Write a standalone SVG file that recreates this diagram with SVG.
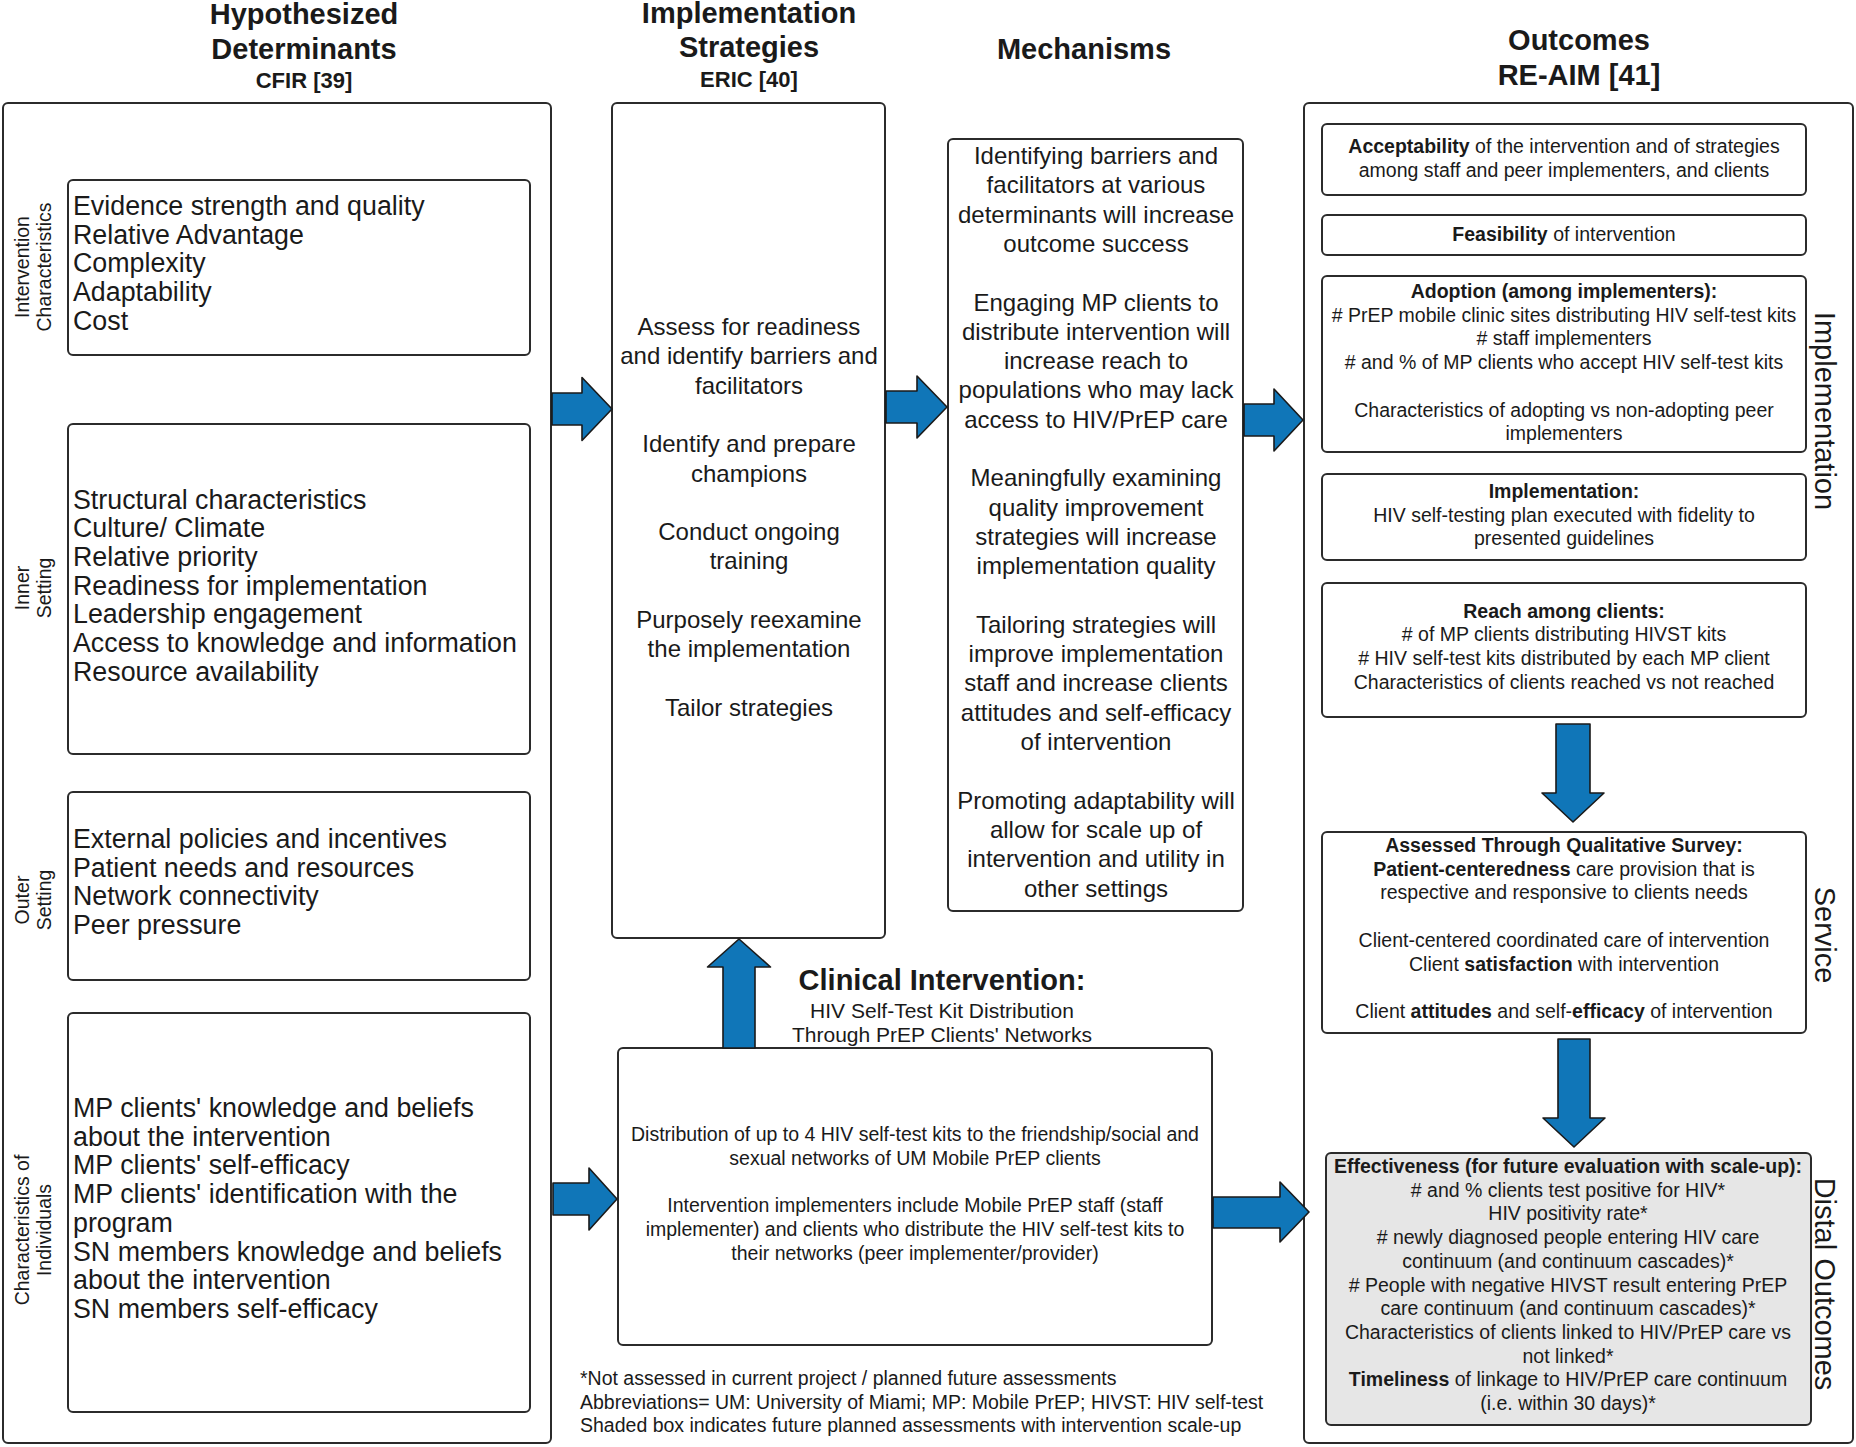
<svg xmlns="http://www.w3.org/2000/svg" width="1856" height="1447" viewBox="0 0 1856 1447">
<style>
text{font-family:"Liberation Sans",Arial,sans-serif;fill:#1a1a1a}
.box{fill:#fff;stroke:#2b2b2b;stroke-width:2}
.shade{fill:#e6e6e6;stroke:#2b2b2b;stroke-width:2}
.h{font-size:29px;font-weight:bold;text-anchor:middle}
.hs{font-size:22px;font-weight:bold;text-anchor:middle}
.lt{font-size:26.8px}
.mt{font-size:24px;text-anchor:middle}
.st{font-size:19.5px;text-anchor:middle}
.ft{font-size:19.5px}
.vl{font-size:19.5px;text-anchor:middle}
.vr{font-size:29px;text-anchor:middle}
.ct{font-size:29px;font-weight:bold;text-anchor:middle}
.cs{font-size:21px;text-anchor:middle}
.arr{fill:#1076b8;stroke:#1a1a1a;stroke-width:1.6;stroke-linejoin:round}
b,.b{font-weight:bold}
</style>

<!-- Column headers -->
<g id="headers">
<text class="h" x="304" y="24">Hypothesized</text>
<text class="h" x="304" y="59">Determinants</text>
<text class="hs" x="304" y="88">CFIR [39]</text>
<text class="h" x="749" y="23">Implementation</text>
<text class="h" x="749" y="57">Strategies</text>
<text class="hs" x="749" y="87">ERIC [40]</text>
<text class="h" x="1084" y="59">Mechanisms</text>
<text class="h" x="1579" y="50">Outcomes</text>
<text class="h" x="1579" y="85">RE-AIM [41]</text>
</g>

<!-- Determinants column -->
<g id="determinants">
<rect class="box" x="3" y="103" width="548" height="1340" rx="5"/>
</g>

<g id="intervention-characteristics">
<rect class="box" x="68" y="180" width="462" height="175" rx="5"/>
<g transform="translate(0,267) rotate(-90)">
<text class="vl" x="0" y="29">Intervention</text>
<text class="vl" x="0" y="51">Characteristics</text>
</g>
<text class="lt" x="73" y="215">Evidence strength and quality</text>
<text class="lt" x="73" y="243.7">Relative Advantage</text>
<text class="lt" x="73" y="272.4">Complexity</text>
<text class="lt" x="73" y="301.1">Adaptability</text>
<text class="lt" x="73" y="329.8">Cost</text>
</g>

<g id="inner-setting">
<rect class="box" x="68" y="424" width="462" height="330" rx="5"/>
<g transform="translate(0,588) rotate(-90)">
<text class="vl" x="0" y="29">Inner</text>
<text class="vl" x="0" y="51">Setting</text>
</g>
<text class="lt" x="73" y="508.5">Structural characteristics</text>
<text class="lt" x="73" y="537.2">Culture/ Climate</text>
<text class="lt" x="73" y="565.9">Relative priority</text>
<text class="lt" x="73" y="594.6">Readiness for implementation</text>
<text class="lt" x="73" y="623.3">Leadership engagement</text>
<text class="lt" x="73" y="652">Access to knowledge and information</text>
<text class="lt" x="73" y="680.7">Resource availability</text>
</g>

<g id="outer-setting">
<rect class="box" x="68" y="792" width="462" height="188" rx="5"/>
<g transform="translate(0,900) rotate(-90)">
<text class="vl" x="0" y="29">Outer</text>
<text class="vl" x="0" y="51">Setting</text>
</g>
<text class="lt" x="73" y="848">External policies and incentives</text>
<text class="lt" x="73" y="876.7">Patient needs and resources</text>
<text class="lt" x="73" y="905.4">Network connectivity</text>
<text class="lt" x="73" y="934.1">Peer pressure</text>
</g>

<g id="characteristics-of-individuals">
<rect class="box" x="68" y="1013" width="462" height="399" rx="5"/>
<g transform="translate(0,1230) rotate(-90)">
<text class="vl" x="0" y="29">Characteristics of</text>
<text class="vl" x="0" y="51">Individuals</text>
</g>
<text class="lt" x="73" y="1117">MP clients' knowledge and beliefs</text>
<text class="lt" x="73" y="1145.7">about the intervention</text>
<text class="lt" x="73" y="1174.4">MP clients' self-efficacy</text>
<text class="lt" x="73" y="1203.1">MP clients' identification with the</text>
<text class="lt" x="73" y="1231.8">program</text>
<text class="lt" x="73" y="1260.5">SN members knowledge and beliefs</text>
<text class="lt" x="73" y="1289.2">about the intervention</text>
<text class="lt" x="73" y="1317.9">SN members self-efficacy</text>
</g>

<!-- Implementation strategies -->
<g id="strategies">
<rect class="box" x="612" y="103" width="273" height="835" rx="5"/>
<text class="mt" x="749" y="335">Assess for readiness</text>
<text class="mt" x="749" y="364.3">and identify barriers and</text>
<text class="mt" x="749" y="393.6">facilitators</text>
<text class="mt" x="749" y="452.2">Identify and prepare</text>
<text class="mt" x="749" y="481.5">champions</text>
<text class="mt" x="749" y="540.1">Conduct ongoing</text>
<text class="mt" x="749" y="569.4">training</text>
<text class="mt" x="749" y="628">Purposely reexamine</text>
<text class="mt" x="749" y="657.3">the implementation</text>
<text class="mt" x="749" y="715.9">Tailor strategies</text>
</g>

<!-- Mechanisms -->
<g id="mechanisms">
<rect class="box" x="948" y="139" width="295" height="772" rx="5"/>
<text class="mt" x="1096" y="164">Identifying barriers and</text>
<text class="mt" x="1096" y="193.3">facilitators at various</text>
<text class="mt" x="1096" y="222.6">determinants will increase</text>
<text class="mt" x="1096" y="251.9">outcome success</text>
<text class="mt" x="1096" y="310.5">Engaging MP clients to</text>
<text class="mt" x="1096" y="339.8">distribute intervention will</text>
<text class="mt" x="1096" y="369.1">increase reach to</text>
<text class="mt" x="1096" y="398.4">populations who may lack</text>
<text class="mt" x="1096" y="427.7">access to HIV/PrEP care</text>
<text class="mt" x="1096" y="486.3">Meaningfully examining</text>
<text class="mt" x="1096" y="515.6">quality improvement</text>
<text class="mt" x="1096" y="544.9">strategies will increase</text>
<text class="mt" x="1096" y="574.2">implementation quality</text>
<text class="mt" x="1096" y="632.8">Tailoring strategies will</text>
<text class="mt" x="1096" y="662.1">improve implementation</text>
<text class="mt" x="1096" y="691.4">staff and increase clients</text>
<text class="mt" x="1096" y="720.7">attitudes and self-efficacy</text>
<text class="mt" x="1096" y="750">of intervention</text>
<text class="mt" x="1096" y="808.6">Promoting adaptability will</text>
<text class="mt" x="1096" y="837.9">allow for scale up of</text>
<text class="mt" x="1096" y="867.2">intervention and utility in</text>
<text class="mt" x="1096" y="896.5">other settings</text>
</g>

<!-- Clinical intervention -->
<g id="clinical-intervention">
<text class="ct" x="942" y="990">Clinical Intervention:</text>
<text class="cs" x="942" y="1018">HIV Self-Test Kit Distribution</text>
<text class="cs" x="942" y="1041.5">Through PrEP Clients' Networks</text>
<rect class="box" x="618" y="1048" width="594" height="297" rx="5"/>
<text class="st" x="915" y="1141">Distribution of up to 4 HIV self-test kits to the friendship/social and</text>
<text class="st" x="915" y="1164.7">sexual networks of UM Mobile PrEP clients</text>
<text class="st" x="915" y="1212.1">Intervention implementers include Mobile PrEP staff (staff</text>
<text class="st" x="915" y="1235.8">implementer) and clients who distribute the HIV self-test kits to</text>
<text class="st" x="915" y="1259.5">their networks (peer implementer/provider)</text>
</g>

<g id="footnotes">
<text class="ft" x="580" y="1385">*Not assessed in current project / planned future assessments</text>
<text class="ft" x="580" y="1408.5">Abbreviations= UM: University of Miami; MP: Mobile PrEP; HIVST: HIV self-test</text>
<text class="ft" x="580" y="1432">Shaded box indicates future planned assessments with intervention scale-up</text>
</g>

<!-- Outcomes -->
<g id="outcomes">
<rect class="box" x="1304" y="103" width="549" height="1340" rx="5"/>
<g transform="translate(1815,411) rotate(90)"><text class="vr" x="0" y="0">Implementation</text></g>
<g transform="translate(1815,935) rotate(90)"><text class="vr" x="0" y="0">Service</text></g>
<g transform="translate(1815,1284) rotate(90)"><text class="vr" x="0" y="0">Distal Outcomes</text></g>
</g>

<g id="acceptability">
<rect class="box" x="1322" y="124" width="484" height="71" rx="5"/>
<text class="st" x="1564" y="153"><tspan class="b">Acceptability</tspan> of the intervention and of strategies</text>
<text class="st" x="1564" y="176.7">among staff and peer implementers, and clients</text>
</g>

<g id="feasibility">
<rect class="box" x="1322" y="215" width="484" height="40" rx="5"/>
<text class="st" x="1564" y="240.5"><tspan class="b">Feasibility</tspan> of intervention</text>
</g>

<g id="adoption">
<rect class="box" x="1322" y="276" width="484" height="176" rx="5"/>
<text class="st" x="1564" y="298"><tspan class="b">Adoption (among implementers):</tspan></text>
<text class="st" x="1564" y="321.7"># PrEP mobile clinic sites distributing HIV self-test kits</text>
<text class="st" x="1564" y="345.4"># staff implementers</text>
<text class="st" x="1564" y="369.1"># and % of MP clients who accept HIV self-test kits</text>
<text class="st" x="1564" y="416.5">Characteristics of adopting vs non-adopting peer</text>
<text class="st" x="1564" y="440.2">implementers</text>
</g>

<g id="implementation">
<rect class="box" x="1322" y="474" width="484" height="86" rx="5"/>
<text class="st" x="1564" y="498"><tspan class="b">Implementation:</tspan></text>
<text class="st" x="1564" y="521.7">HIV self-testing plan executed with fidelity to</text>
<text class="st" x="1564" y="545.4">presented guidelines</text>
</g>

<g id="reach">
<rect class="box" x="1322" y="583" width="484" height="134" rx="5"/>
<text class="st" x="1564" y="617.5"><tspan class="b">Reach among clients:</tspan></text>
<text class="st" x="1564" y="641.2"># of MP clients distributing HIVST kits</text>
<text class="st" x="1564" y="664.9"># HIV self-test kits distributed by each MP client</text>
<text class="st" x="1564" y="688.6">Characteristics of clients reached vs not reached</text>
</g>

<g id="assessed">
<rect class="box" x="1322" y="832" width="484" height="201" rx="5"/>
<text class="st" x="1564" y="852"><tspan class="b">Assessed Through Qualitative Survey:</tspan></text>
<text class="st" x="1564" y="875.7"><tspan class="b">Patient-centeredness</tspan> care provision that is</text>
<text class="st" x="1564" y="899.4">respective and responsive to clients needs</text>
<text class="st" x="1564" y="946.8">Client-centered coordinated care of intervention</text>
<text class="st" x="1564" y="970.5">Client <tspan class="b">satisfaction</tspan> with intervention</text>
<text class="st" x="1564" y="1017.9">Client <tspan class="b">attitudes</tspan> and self-<tspan class="b">efficacy</tspan> of intervention</text>
</g>

<g id="effectiveness">
<rect class="shade" x="1326" y="1153" width="485" height="272" rx="5"/>
<text class="st" x="1568" y="1173"><tspan class="b">Effectiveness (for future evaluation with scale-up):</tspan></text>
<text class="st" x="1568" y="1196.7"># and % clients test positive for HIV*</text>
<text class="st" x="1568" y="1220.4">HIV positivity rate*</text>
<text class="st" x="1568" y="1244.1"># newly diagnosed people entering HIV care</text>
<text class="st" x="1568" y="1267.8">continuum (and continuum cascades)*</text>
<text class="st" x="1568" y="1291.5"># People with negative HIVST result entering PrEP</text>
<text class="st" x="1568" y="1315.2">care continuum (and continuum cascades)*</text>
<text class="st" x="1568" y="1338.9">Characteristics of clients linked to HIV/PrEP care vs</text>
<text class="st" x="1568" y="1362.6">not linked*</text>
<text class="st" x="1568" y="1386.3"><tspan class="b">Timeliness</tspan> of linkage to HIV/PrEP care continuum</text>
<text class="st" x="1568" y="1410">(i.e. within 30 days)*</text>
</g>

<!-- Connectors -->
<g id="connectors">
<path class="arr" d="M552,393 L582,393 L582,377.5 L612,409 L582,440.5 L582,425 L552,425 Z"/>
<path class="arr" d="M886,391 L917,391 L917,376 L947,407 L917,438 L917,423 L886,423 Z"/>
<path class="arr" d="M1244,404 L1274,404 L1274,389 L1303,420 L1274,451 L1274,436 L1244,436 Z"/>
<path class="arr" d="M553,1183 L589,1183 L589,1168 L617,1199 L589,1230 L589,1215 L553,1215 Z"/>
<path class="arr" d="M1213,1197 L1280,1197 L1280,1182 L1309,1212 L1280,1242 L1280,1228 L1213,1228 Z"/>
<path class="arr" d="M723,1048 L723,967 L707.5,967 L739,939 L770.5,967 L755,967 L755,1048 Z"/>
<path class="arr" d="M1556,724 L1590,724 L1590,793 L1604,793 L1573,822 L1542,793 L1556,793 Z"/>
<path class="arr" d="M1558,1039 L1590,1039 L1590,1118 L1605,1118 L1574,1147 L1543,1118 L1558,1118 Z"/>
</g>
</svg>
